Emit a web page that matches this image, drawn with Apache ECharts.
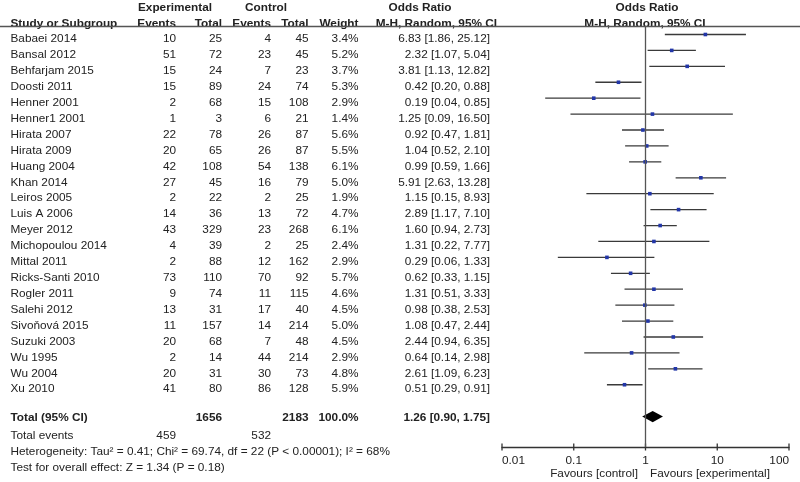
<!DOCTYPE html>
<html><head><meta charset="utf-8">
<script src="https://cdn.jsdelivr.net/npm/echarts@6/dist/echarts.min.js"></script>
<style>html,body{margin:0;padding:0;background:#fff}#c{width:800px;height:482px}</style>
</head><body><div id="c"></div>
<script>
// ---------------- data ----------------
const studies = ['Babaei 2014','Bansal 2012','Behfarjam 2015','Doosti 2011','Henner 2001','Henner1 2001','Hirata 2007','Hirata 2009','Huang 2004','Khan 2014','Leiros 2005','Luis A 2006','Meyer 2012','Michopoulou 2014','Mittal 2011','Ricks-Santi 2010','Rogler 2011','Salehi 2012','Sivoňová 2015','Suzuki 2003','Wu 1995','Wu 2004','Xu 2010'];
const expEvents = [10,51,15,15,2,1,22,20,42,27,2,14,43,4,2,73,9,13,11,20,2,20,41];
const expTotal  = [25,72,24,89,68,3,78,65,108,45,22,36,329,39,88,110,74,31,157,68,14,31,80];
const ctlEvents = [4,23,7,24,15,6,26,26,54,16,2,13,23,2,12,70,11,17,14,7,44,30,86];
const ctlTotal  = [45,45,23,74,108,21,87,87,138,79,25,72,268,25,162,92,115,40,214,48,214,73,128];
const weights   = [3.4,5.2,3.7,5.3,2.9,1.4,5.6,5.5,6.1,5.0,1.9,4.7,6.1,2.4,2.9,5.7,4.6,4.5,5.0,4.5,2.9,4.8,5.9];
const oddsRatio = [6.83,2.32,3.81,0.42,0.19,1.25,0.92,1.04,0.99,5.91,1.15,2.89,1.60,1.31,0.29,0.62,1.31,0.98,1.08,2.44,0.64,2.61,0.51];
const ciLow     = [1.86,1.07,1.13,0.20,0.04,0.09,0.47,0.52,0.59,2.63,0.15,1.17,0.94,0.22,0.06,0.33,0.51,0.38,0.47,0.94,0.14,1.09,0.29];
const ciHigh    = [25.12,5.04,12.82,0.88,0.85,16.50,1.81,2.10,1.66,13.28,8.93,7.10,2.73,7.77,1.33,1.15,3.33,2.53,2.44,6.35,2.98,6.23,0.91];
const totalOR = 1.26, totalLow = 0.90, totalHigh = 1.75;
const totalExpN = 1656, totalCtlN = 2183, totalWeight = 100.0;
const totalExpEvents = 459, totalCtlEvents = 532;
const heterogeneityText = 'Heterogeneity: Tau² = 0.41; Chi² = 69.74, df = 22 (P < 0.00001); I² = 68%';
const overallText = 'Test for overall effect: Z = 1.34 (P = 0.18)';
const xTicks = [0.01, 0.1, 1, 10, 100];
const xTickLabels = ['0.01', '0.1', '1', '10', '100'];

// ---------------- layout ----------------
const W = 800, H = 482;
const ROW_H = 15.92;
const TEXT_ROW0 = 39;     // pixel centre of first text row
const PLOT_ROW0 = 34.5;   // pixel centre of first CI line
const PLOT_TOP = 26, AXIS_Y = 447;
const FONT = '"Liberation Sans", Arial, sans-serif';
const FS = 11.8;
const TXT = '#222';

const n = studies.length;
const f2 = v => v.toFixed(2);
const ciStr = (o, l, h) => f2(o) + ' [' + f2(l) + ', ' + f2(h) + ']';

// table text items: x, row, text, align, bold
const items = [];
const colStudy = 10.5, colEE = 176, colET = 222, colCE = 271, colCT = 308.5, colW = 358.5, colCI = 490;
const hdr1 = -1.95, hdr2 = -0.96;
items.push([175, hdr1, 'Experimental', 'center', true]);
items.push([266, hdr1, 'Control', 'center', true]);
items.push([420, hdr1, 'Odds Ratio', 'center', true]);
items.push([647, hdr1, 'Odds Ratio', 'center', true]);
items.push([colStudy, hdr2, 'Study or Subgroup', 'left', true]);
items.push([colEE, hdr2, 'Events', 'right', true]);
items.push([colET, hdr2, 'Total', 'right', true]);
items.push([colCE, hdr2, 'Events', 'right', true]);
items.push([colCT, hdr2, 'Total', 'right', true]);
items.push([colW, hdr2, 'Weight', 'right', true]);
items.push([497, hdr2, 'M-H, Random, 95% CI', 'right', true]);
items.push([645, hdr2, 'M-H, Random, 95% CI', 'center', true]);
for (let i = 0; i < n; i++) {
  items.push([colStudy, i, studies[i], 'left', false]);
  items.push([colEE, i, String(expEvents[i]), 'right', false]);
  items.push([colET, i, String(expTotal[i]), 'right', false]);
  items.push([colCE, i, String(ctlEvents[i]), 'right', false]);
  items.push([colCT, i, String(ctlTotal[i]), 'right', false]);
  items.push([colW, i, weights[i].toFixed(1) + '%', 'right', false]);
  items.push([colCI, i, ciStr(oddsRatio[i], ciLow[i], ciHigh[i]), 'right', false]);
}
const totRow = n + 0.76;
items.push([colStudy, totRow, 'Total (95% CI)', 'left', true]);
items.push([colET, totRow, String(totalExpN), 'right', true]);
items.push([colCT, totRow, String(totalCtlN), 'right', true]);
items.push([colW, totRow, totalWeight.toFixed(1) + '%', 'right', true]);
items.push([colCI, totRow, ciStr(totalOR, totalLow, totalHigh), 'right', true]);
const evRow = n + 1.94;
items.push([colStudy, evRow, 'Total events', 'left', false]);
items.push([colEE, evRow, String(totalExpEvents), 'right', false]);
items.push([colCE, evRow, String(totalCtlEvents), 'right', false]);
items.push([colStudy, n + 2.93, heterogeneityText, 'left', false]);
items.push([colStudy, n + 3.9, overallText, 'left', false]);

const textYMin = -TEXT_ROW0 / ROW_H;
const textYMax = textYMin + H / ROW_H;
const plotYMin = -(PLOT_ROW0 - PLOT_TOP) / ROW_H;
const plotYMax = (AXIS_Y - PLOT_ROW0) / ROW_H;

const chart = echarts.init(document.getElementById('c'), null, {renderer: 'canvas'});
const option = {
  backgroundColor: '#fff',
  animation: false,
  grid: [
    {left: 502, right: W - 789, top: PLOT_TOP, bottom: H - AXIS_Y},
    {left: 0, right: 0, top: 0, bottom: 0}
  ],
  xAxis: [
    {type: 'log', logBase: 10, min: 0.01, max: 100, gridIndex: 0, position: 'bottom',
     axisLine: {show: true, onZero: false, lineStyle: {color: '#333', width: 1.3}},
     axisTick: {show: false}, splitLine: {show: false},
     axisLabel: {color: TXT, fontSize: FS, fontFamily: FONT, margin: 8,
       alignMinLabel: 'left', alignMaxLabel: 'right',
       formatter: v => { const k = xTicks.findIndex(t => Math.abs(Math.log10(t) - Math.log10(v)) < 1e-6); return k >= 0 ? xTickLabels[k] : ''; }}},
    {type: 'value', min: 0, max: W, gridIndex: 1, show: false}
  ],
  yAxis: [
    {type: 'value', inverse: true, min: plotYMin, max: plotYMax, gridIndex: 0, show: false},
    {type: 'value', inverse: true, min: textYMin, max: textYMax, gridIndex: 1, show: false}
  ],
  graphic: [
    {type: 'line', shape: {x1: 0, y1: 26.5, x2: W, y2: 26.5}, style: {stroke: '#555', lineWidth: 1.5}, z: 10},
    {type: 'text', x: 638, y: 474, style: {text: 'Favours [control]', fill: TXT, font: FS + 'px ' + FONT, textAlign: 'right', textVerticalAlign: 'middle'}},
    {type: 'text', x: 650, y: 474, style: {text: 'Favours [experimental]', fill: TXT, font: FS + 'px ' + FONT, textAlign: 'left', textVerticalAlign: 'middle'}}
  ],
  series: [
    { // reference line at OR = 1
      type: 'line', xAxisIndex: 0, yAxisIndex: 0, data: [],
      markLine: {silent: true, symbol: 'none', label: {show: false},
        lineStyle: {color: '#555', width: 1.3, type: 'solid'}, data: [{xAxis: 1}]}
    },
    { // study CIs and point estimates
      type: 'custom', xAxisIndex: 0, yAxisIndex: 0, clip: false,
      data: studies.map((s, i) => [oddsRatio[i], i, ciLow[i], ciHigh[i]]),
      renderItem: (params, api) => {
        const y = api.value(1);
        const p0 = api.coord([api.value(2), y]);
        const p1 = api.coord([api.value(3), y]);
        const pm = api.coord([api.value(0), y]);
        const s = 3.6;
        return {type: 'group', children: [
          {type: 'line', shape: {x1: p0[0], y1: p0[1], x2: p1[0], y2: p1[1]}, style: {stroke: '#3a3a3a', lineWidth: 1.3}},
          {type: 'rect', shape: {x: pm[0] - s / 2, y: pm[1] - s / 2, width: s, height: s}, style: {fill: '#2236a8'}}
        ]};
      }
    },
    { // pooled diamond
      type: 'custom', xAxisIndex: 0, yAxisIndex: 0, clip: false,
      data: [[totalOR, n + 1, totalLow, totalHigh]],
      renderItem: (params, api) => {
        const y = api.value(1);
        const pl = api.coord([api.value(2), y]);
        const ph = api.coord([api.value(3), y]);
        const pm = api.coord([api.value(0), y]);
        const hh = 5.7;
        return {type: 'polygon', shape: {points: [[pl[0], pl[1]], [pm[0], pm[1] - hh], [ph[0], ph[1]], [pm[0], pm[1] + hh]]}, style: {fill: '#000'}};
      }
    },
    { // axis ticks crossing the axis line
      type: 'custom', xAxisIndex: 0, yAxisIndex: 0, clip: false,
      data: xTicks.map(t => [t, plotYMax]),
      renderItem: (params, api) => {
        const p = api.coord([api.value(0), api.value(1)]);
        return {type: 'line', shape: {x1: p[0], y1: p[1] - 3.5, x2: p[0], y2: p[1] + 3.5}, style: {stroke: '#333', lineWidth: 1.3}};
      }
    },
    { // table text
      type: 'custom', xAxisIndex: 1, yAxisIndex: 1, clip: false,
      data: items.map(it => [it[0], it[1]]),
      renderItem: (params, api) => {
        const it = items[params.dataIndex];
        const p = api.coord([api.value(0), api.value(1)]);
        return {type: 'text', x: p[0], y: p[1], style: {text: it[2], fill: TXT, textAlign: it[3], textVerticalAlign: 'middle',
          font: (it[4] ? 'bold ' : '') + FS + 'px ' + FONT}};
      }
    }
  ]
};
chart.setOption(option);
</script></body></html>
